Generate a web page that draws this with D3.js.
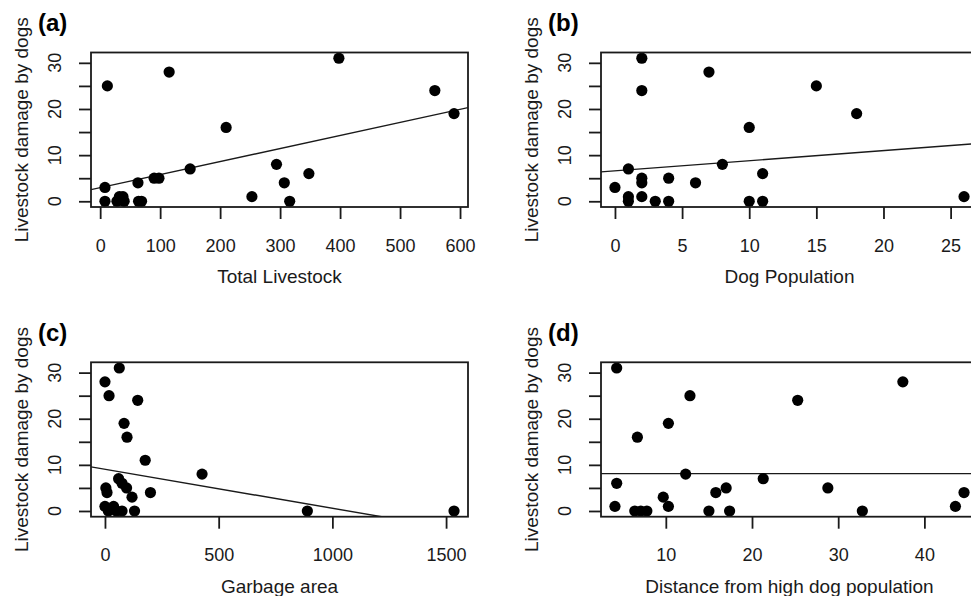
<!DOCTYPE html>
<html>
<head>
<meta charset="utf-8">
<script src="https://cdn.jsdelivr.net/npm/d3@7"></script>
<style>
  body { margin: 0; background: #fff; }
  svg { display: block; font-family: "Liberation Sans", Arial, sans-serif; }
</style>
</head>
<body>
<svg id="chart" width="971" height="596"></svg>
<script>
// y axis shared by the four panels
const yTicks = [0, 5, 10, 15, 20, 25, 30];
const yTickLabels = [0, 10, 20, 30];
const yTitle = "Livestock damage by dogs";

// (a) total livestock
const livestockX = [12, 115, 398, 558, 590, 210, 150, 294, 307, 348, 253, 316, 90, 98, 63, 8, 8, 28, 32, 38, 40, 64, 69];
const livestockY = [25, 28, 31, 24, 19, 16, 7, 8, 4, 6, 1, 0, 5, 5, 4, 3, 0, 0, 1, 1, 0, 0, 0];
const livestockTicks = [0, 100, 200, 300, 400, 500, 600];
const livestockFit = [2.95, 0.0283]; // intercept, slope

// (b) dog population
const dogX = [2, 2, 7, 15, 18, 10, 1, 8, 11, 0, 2, 2, 4, 6, 1, 1, 2, 3, 4, 10, 11, 26];
const dogY = [31, 24, 28, 25, 19, 16, 7, 8, 6, 3, 5, 4, 5, 4, 1, 0, 1, 0, 0, 0, 0, 1];
const dogTicks = [0, 5, 10, 15, 20, 25];
const dogFit = [6.6, 0.219];

// (c) garbage area
const garbageX = [63, 0, 18, 144, 84, 97, 177, 427, 60, 75, 95, 4, 9, 119, 200, 0, 38, 15, 50, 75, 130, 890, 1535];
const garbageY = [31, 28, 25, 24, 19, 16, 11, 8, 7, 6, 5, 5, 4, 3, 4, 1, 1, 0, 0, 0, 0, 0, 0];
const garbageTicks = [0, 500, 1000, 1500];
const garbageFit = [9.04, -0.00845];

// (d) distance from high dog population
const distX = [4.3, 4.3, 4.1, 6.7, 6.4, 7.1, 7.8, 10.3, 9.7, 10.3, 12.8, 12.3, 15, 15.8, 17, 17.4, 21.3, 25.3, 28.8, 32.8, 37.5, 43.6, 44.6];
const distY = [31, 6, 1, 16, 0, 0, 0, 19, 3, 1, 25, 8, 0, 4, 5, 0, 7, 24, 5, 0, 28, 1, 4];
const distTicks = [10, 20, 30, 40];
const distFit = [8.1, 0];

const panels = [
  {tag: "(a)", xs: livestockX, ys: livestockY, ticks: livestockTicks, fit: livestockFit, title: "Total Livestock",
   box: {left: 91, right: 468, top: 52.5, bottom: 207}},
  {tag: "(b)", xs: dogX, ys: dogY, ticks: dogTicks, fit: dogFit, title: "Dog Population",
   box: {left: 601, right: 978, top: 52.5, bottom: 207}},
  {tag: "(c)", xs: garbageX, ys: garbageY, ticks: garbageTicks, fit: garbageFit, title: "Garbage area",
   box: {left: 91, right: 468, top: 362.3, bottom: 516.7}},
  {tag: "(d)", xs: distX, ys: distY, ticks: distTicks, fit: distFit, title: "Distance from high dog population",
   box: {left: 601, right: 978, top: 362.3, bottom: 516.7}}
];

const ink = "#1a1a1a";
const svg = d3.select("#chart");
svg.append("rect").attr("width", 971).attr("height", 596).attr("fill", "#fff");

// R style range: data extent padded by 4% on each side
function padded(values) {
  const [lo, hi] = d3.extent(values);
  const pad = (hi - lo) * 0.04;
  return [lo - pad, hi + pad];
}

panels.forEach((p, i) => {
  const b = p.box;
  const x = d3.scaleLinear().domain(padded(p.xs)).range([b.left, b.right]);
  const y = d3.scaleLinear().domain(padded(p.ys)).range([b.bottom, b.top]);
  const g = svg.append("g");

  const clipId = "clip" + i;
  g.append("clipPath").attr("id", clipId)
    .append("rect")
    .attr("x", b.left).attr("y", b.top)
    .attr("width", b.right - b.left).attr("height", b.bottom - b.top);

  // axes, R look: ticks outside, labels rotated on y
  const xAxis = g.append("g")
    .attr("transform", `translate(0,${b.bottom})`)
    .call(d3.axisBottom(x).tickValues(p.ticks).tickSize(12).tickSizeOuter(0).tickPadding(0));
  xAxis.select(".domain").remove();
  xAxis.selectAll("line").attr("stroke", ink).attr("stroke-width", 1.8);
  xAxis.selectAll("text").remove();
  xAxis.selectAll(".tick").append("text")
    .attr("y", 44.5)
    .attr("text-anchor", "middle")
    .attr("fill", ink)
    .style("font-size", "18px")
    .text(d => d);

  const yAxis = g.append("g")
    .attr("transform", `translate(${b.left},0)`)
    .call(d3.axisLeft(y).tickValues(yTicks).tickSize(12).tickSizeOuter(0));
  yAxis.select(".domain").remove();
  yAxis.selectAll("line").attr("stroke", ink).attr("stroke-width", 1.8);
  yAxis.selectAll("text").remove();

  g.selectAll(".ylab").data(yTickLabels).join("text")
    .attr("transform", d => `translate(${b.left - 29.6},${y(d)}) rotate(-90)`)
    .attr("text-anchor", "middle")
    .attr("fill", ink)
    .style("font-size", "18px")
    .text(d => d);

  // axis titles
  g.append("text")
    .attr("x", (b.left + Math.min(b.right, 971 + 200)) / 2)
    .attr("y", b.bottom + 76)
    .attr("text-anchor", "middle")
    .attr("fill", ink)
    .style("font-size", "19px")
    .text(p.title);

  g.append("text")
    .attr("transform", `translate(${b.left - 63},${(b.top + b.bottom) / 2}) rotate(-90)`)
    .attr("text-anchor", "middle")
    .attr("fill", ink)
    .style("font-size", "19px")
    .text(yTitle);

  g.append("text")
    .attr("x", b.left - 53)
    .attr("y", b.top - 21.5)
    .attr("fill", "#000")
    .style("font-size", "24px")
    .style("font-weight", "bold")
    .text(p.tag);

  // fitted line, clipped to the plot region
  const [x0, x1] = x.domain();
  g.append("line")
    .attr("clip-path", `url(#${clipId})`)
    .attr("x1", x(x0)).attr("y1", y(p.fit[0] + p.fit[1] * x0))
    .attr("x2", x(x1)).attr("y2", y(p.fit[0] + p.fit[1] * x1))
    .attr("stroke", ink)
    .attr("stroke-width", 1.4);

  // points
  g.selectAll("circle").data(p.xs).join("circle")
    .attr("cx", d => x(d))
    .attr("cy", (d, j) => y(p.ys[j]))
    .attr("r", 5.6)
    .attr("fill", "#000");

  // box
  g.append("rect")
    .attr("x", b.left).attr("y", b.top)
    .attr("width", b.right - b.left).attr("height", b.bottom - b.top)
    .attr("fill", "none")
    .attr("stroke", ink)
    .attr("stroke-width", 1.8);
});
</script>
</body>
</html>
